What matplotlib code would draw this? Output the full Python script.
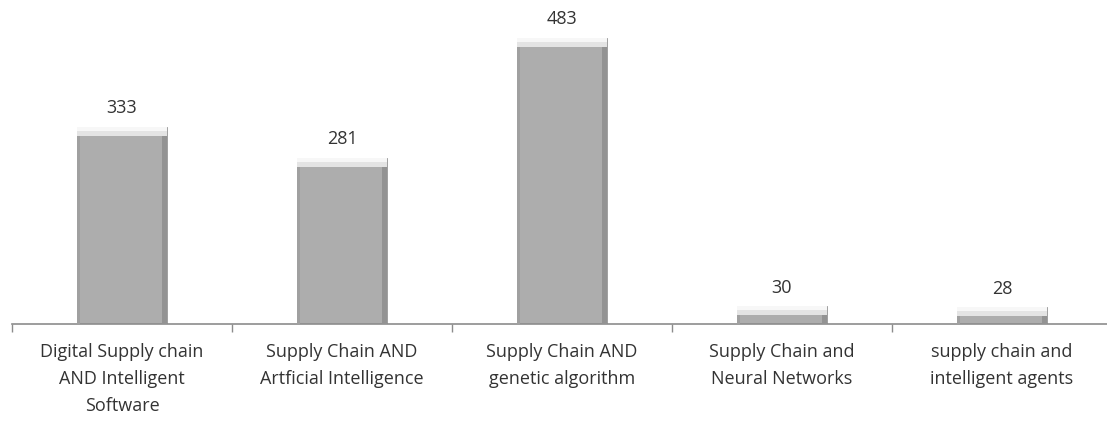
import numpy as np
import matplotlib.pyplot as plt

categories = ["Digital Supply chain\nAND Intelligent\nSoftware",
              "Supply Chain AND\nArtficial Intelligence",
              "Supply Chain AND\ngenetic algorithm",
              "Supply Chain and\nNeural Networks",
              "supply chain and\nintelligent agents"]
counts = [333, 281, 483, 30, 28]

plt.rcParams['font.family'] = ['Open Sans', 'DejaVu Sans']

fig = plt.figure(figsize=(11.07, 4.21), dpi=100)
ax = fig.add_axes([12 / 1107, 97 / 421, 1100 / 1107, 324 / 421])

x = np.arange(len(counts))
w = 0.41
# main bar body
ax.bar(x, counts, width=w, color='#adadad', edgecolor='#999999', linewidth=0.6, zorder=2)
# darker side shading
ax.bar(x + w / 2 - 0.012, counts, width=0.024, color='#939393', linewidth=0, zorder=3)
ax.bar(x - w / 2 + 0.008, counts, width=0.016, color='#a0a0a0', linewidth=0, zorder=3)
# light bevel on top
bevel = 16
tops = np.array(counts, dtype=float)
bh = np.minimum(bevel, tops * 0.5)
ax.bar(x, bh, bottom=tops - bh, width=w, color='#e4e4e4', linewidth=0, zorder=4)
ax.bar(x, bh * 0.45, bottom=tops - bh * 0.45, width=w, color='#f7f7f7', linewidth=0, zorder=5)

for xi, c in zip(x, counts):
    ax.text(xi, c + 16, str(c), ha='center', va='bottom', fontsize=13, color='#333333')

ax.set_xlim(-0.5, len(counts) - 0.5)
ax.set_ylim(0, 547)
ax.set_yticks([])
for s in ['top', 'right', 'left']:
    ax.spines[s].set_visible(False)
ax.spines['bottom'].set_color('#8c8c8c')
ax.spines['bottom'].set_linewidth(1.2)

ax.set_xticks(np.arange(len(counts) + 1) - 0.5, minor=False)
ax.set_xticklabels([])
ax.tick_params(axis='x', which='major', length=6, color='#8c8c8c', width=1)
ax.set_xticks(x, minor=True)
ax.set_xticklabels(categories, minor=True, fontsize=13, color='#333333', linespacing=1.62)
ax.tick_params(axis='x', which='minor', length=0, pad=14)

fig.savefig('out.png', dpi=100)
